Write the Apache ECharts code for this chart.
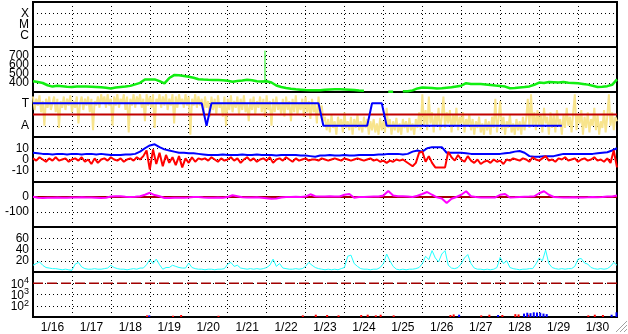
<!DOCTYPE html>
<html><head><meta charset="utf-8">
<script src="https://cdn.jsdelivr.net/npm/echarts@6/dist/echarts.min.js"></script>
<style>html,body{margin:0;padding:0;background:#fff}#c{width:628px;height:334px}</style>
</head><body><div id="c"></div>
<script>
// ---- data (time in hours from 1/16 00:00) ----
const dayLabels = ['1/16','1/17','1/18','1/19','1/20','1/21','1/22','1/23','1/24','1/25','1/26','1/27','1/28','1/29','1/30'];
const flareClasses = ['C','M','X'];          // y = 1,2,3
const sectorNames = ['A','T'];               // y = 1,2

// solar wind speed, every 3 h
const speed = [420,410,400,375,360,370,365,358,355,360,
362,360,358,356,354,348,340,350,356,360,
368,385,402,440,438,440,420,395,455,488,
485,478,470,458,442,438,435,434,432,430,
425,415,422,428,435,430,420,418,420,405,
372,355,345,337,330,326,322,320,320,320,
324,328,330,330,328,325,322,318,315,null,
null,null,null,303,303,null,307,308,318,340,
350,348,345,340,342,348,352,362,370,398,
390,388,388,384,378,372,368,360,342,345,
350,355,362,380,405,400,410,408,405,410,
402,400,396,390,382,370,356,358,365,380,
440];
const speedSpike = [[143, 418], [143, 760]];

// IMF angle scatter (yellow), hourly
const imfAngle = [
2.3,1.7,2.2,1.9,2.35,1.6,2.1,1.0,2.2,1.8,
2.3,1.7,2.0,2.3,1.6,2.2,0.9,2.1,1.8,2.3,
1.7,2.2,1.9,2.35,1.6,2.1,1.8,2.3,1.1,2.0,
2.3,1.7,2.2,1.9,2.3,1.6,2.2,0.8,2.1,1.9,
2.3,1.8,2.4,2.0,2.3,1.8,2.4,1.9,2.2,1.0,
2.3,1.9,2.4,1.8,2.2,2.0,2.4,1.7,2.3,0.7,
2.2,1.9,2.4,1.8,2.3,2.0,2.4,1.8,2.2,1.2,
2.4,1.9,2.3,1.8,2.4,0.9,2.2,2.0,2.4,1.8,
2.3,1.9,2.4,1.7,2.2,1.9,2.4,1.1,2.3,1.8,
2.4,2.0,2.2,1.8,2.4,1.9,2.3,0.6,2.2,1.9,
2.4,1.8,2.3,1.9,2.2,1.5,2.3,1.8,2.1,1.4,
2.3,1.7,2.2,1.5,2.35,1.8,2.0,1.4,2.3,1.0,
2.2,1.7,2.35,1.6,2.1,1.8,2.3,1.5,2.2,1.7,
2.35,1.6,2.0,1.2,2.2,1.7,2.3,1.5,2.1,1.8,
2.3,1.6,2.2,1.4,2.35,1.7,2.1,1.0,2.2,1.6,
2.3,1.7,2.0,1.5,2.2,1.4,2.3,1.7,2.1,1.2,
2.2,1.6,2.35,1.5,2.0,1.7,2.2,1.4,2.3,1.6,
2.1,1.3,2.2,1.6,2.0,1.1,2.3,1.5,1.9,1.2,
1.4,0.8,1.3,0.7,1.5,0.9,1.2,0.6,1.4,1.0,
1.3,0.7,1.6,0.9,1.2,0.8,1.4,0.6,1.3,0.9,
1.5,0.8,1.2,0.7,1.4,0.9,1.3,0.6,1.2,0.8,
1.3,0.7,1.1,0.6,1.35,0.8,1.2,0.7,1.8,0.9,
1.3,0.6,1.2,0.8,1.35,0.7,1.1,0.6,1.3,0.9,
1.2,0.7,1.35,0.8,1.1,0.6,1.3,0.9,1.6,0.8,
2.4,1.0,1.7,0.8,2.3,1.1,1.6,0.7,1.5,1.0,
1.8,0.8,1.4,2.3,0.9,1.6,1.1,1.7,0.7,1.5,
1.0,1.8,0.8,1.4,1.1,1.6,0.7,1.3,1.0,1.5,
0.8,1.3,0.6,1.2,0.9,1.4,0.7,1.1,0.6,1.3,
0.8,1.2,0.6,1.4,0.9,2.2,0.7,1.3,2.1,0.8,
1.4,0.6,1.2,0.9,1.5,0.7,1.1,0.6,1.3,0.8,
1.2,0.6,1.4,0.8,1.3,2.2,0.9,2.4,1.0,1.6,
0.8,1.7,1.0,1.5,0.7,1.8,1.1,1.4,0.6,1.6,
0.9,1.5,0.7,1.7,1.0,1.3,0.6,1.5,0.9,1.8,
1.0,1.4,0.7,1.6,2.4,0.8,1.5,1.1,1.7,0.6,
1.4,0.9,1.6,0.7,1.3,1.0,1.8,0.8,1.5,0.6,
1.2,0.9,1.7,0.7,1.4,2.4,1.0,1.6,0.8,1.4,
1.2];
const sectorLevel = 1.5;
const sectorHours = [0,104,107,110,176,179,206,209,215,218,326];
const sectorState = [2,2,1,2,2,1,1,2,2,1,1];

// Bt (blue) every 3 h, Bz (red) every 2 h
const bt = [6,5.5,5,5,4.5,5,5,4.5,5,5,
4.5,5,5,4.5,5,4.5,4,4,4,4.5,
4.5,5,7,10,12.5,13.5,11,9,8,7,
6,6,5.5,5.5,5,4.5,4,4,4,4.5,
4,4,4,4.5,4,4,4.5,4,4,4,
3.5,4,4,4,4,3.5,3.5,3,2.5,3.5,
3.5,4,3.5,3.5,4,3.5,3.5,4,4,4,
4,4.5,4.5,5,5,5,4.5,5,7,8,
7,10,11,11,11,6,6,6,6,5.5,
5,5,5,5,5,5,5,5.5,6,7,
7.5,6,3,2.5,2.5,3,3,3,4,5,
5,5,5,5,5,5,5.5,6,6.5,8,
10];
const bz = [1,-1,2,0,-2,1,-1,2,-1,0,1,-2,0,1,-1,2,-2,0,-4,1,-3,
0,1,-1,2,0,-1,1,-2,0,1,-1,2,0,
3,8,-9,9,-4,6,-6,4,-3,2,-5,3,-7,1,-3,2,-2,1,0,
1,-1,2,0,-2,1,-1,0,2,-1,1,-3,0,2,-1,1,-2,0,1,-1,2,-3,0,1,-1,2,0,-2,1,-1,0,1,-1,0,0,-1,
1,0,-1,0,1,0,-1,1,0,-1,0,1,0,-1,0,1,-1,0,-2,-1,-3,-1,-2,0,-1,
0,-2,-4,-6,-3,6,7,-2,3,
-3,-7,-7,-7,-7,
7,2,-1,4,0,-2,3,
-1,-3,0,-4,-2,-1,-3,0,-2,-1,-4,0,-1,1,
0,-1,1,0,-2,2,0,-1,1,3,-1,0,-2,1,0,2,-1,0,1,-2,0,1,-1,0,2,-1,
0,-2,1,-3,8,-7];

// Dst every 3 h
const dst = [2,-5,-7,-5,-5,-3,-5,-5,-3,-3,
-2,-3,-3,-5,-7,-5,3,5,5,2,
0,2,5,15,28,13,5,-7,-7,-5,
-5,-5,-3,0,0,-3,-5,-5,-3,-5,
0,12,5,-2,-3,-3,-2,-5,-8,-12,
-10,-3,0,0,2,0,3,18,5,3,
3,5,3,3,15,20,-5,0,0,2,
3,3,10,40,10,5,5,3,0,8,
20,33,15,-2,-10,-40,-12,0,15,38,
5,0,-3,-3,-3,-3,15,20,-3,-2,
0,2,3,5,25,38,15,0,-2,-3,
-3,-2,-3,-3,-2,0,-2,0,3,3,
10];
const dstZero = 0;

// cyan index every 2 h
const cyanIdx = [12,15,18,12,8,7,6,6,5,4,5,4,3,14,17,9,6,5,5,6,
5,5,6,7,12,8,6,5,5,4,5,6,5,7,7,13,22,15,23,13,
5,8,8,12,10,8,7,7,16,8,6,5,5,4,5,5,4,5,5,6,
14,17,10,12,7,6,5,6,5,6,5,6,8,12,23,10,15,7,6,5,
5,6,5,6,10,17,12,8,6,5,4,5,4,5,4,6,8,28,30,15,
10,6,5,5,4,5,5,8,15,32,20,10,5,4,5,4,5,5,6,8,
15,28,22,38,25,18,32,38,12,7,6,8,15,25,31,15,7,5,5,4,
5,4,5,8,26,15,20,8,6,5,4,5,5,6,6,14,25,20,39,15,
8,6,5,6,5,6,6,10,23,24,16,14,8,6,5,6,5,6,10,17,
12];

// particle flux panel
const fluxThreshold = 10000;
const redFluxHours = [71,87,92,115,167,175,182,189,203,207,212,215,223,258,260,277,282,290,298,300,306,343,347,352];
const redFlux = [14,13,15,13,14,16,15,14,15,16,14,16,14,15,17,14,16,15,18,17,16,14,16,15];
const blueFluxHours = [71,262,286,302,304,306,308,310,312,314,316,356,359];
const blueFlux = [14,16,15,20,24,22,26,25,24,20,18,16,26];

// ---- chart ----
const FONT = 'Liberation Sans, Arial, sans-serif';
const pairs = (arr, step) => arr.map((v, i) => [i * step, v]);
const zip = (xs, ys) => xs.map((x, i) => [x, ys[i]]);
const dotted = {color: '#000', width: 1, type: [1, 3]};
const tops = [2, 47, 92, 137, 182, 227, 272];
const grid = tops.map(t => ({left: 33, width: 584, top: t, height: 45, show: true, borderColor: '#000', borderWidth: 2, backgroundColor: 'transparent'}));

const xAxis = tops.map((t, i) => ({
  type: 'value', gridIndex: i, min: 0, max: 360, interval: 24,
  axisLine: {show: false}, axisTick: {show: false}, axisLabel: {show: false},
  splitLine: {show: true, lineStyle: dotted}
}));
xAxis.push({type: 'category', gridIndex: 6, data: dayLabels, boundaryGap: true, position: 'bottom',
  axisLine: {show: false}, axisTick: {show: false}, splitLine: {show: false},
  axisLabel: {show: true, interval: 0, color: '#000', fontSize: 12, fontFamily: FONT, margin: 5}});

const lbl = (fmt) => ({show: true, color: '#000', fontSize: 12, fontFamily: FONT, margin: 4, formatter: fmt});
const yBase = {axisLine: {show: false}, axisTick: {show: false}, splitLine: {show: true, lineStyle: dotted}};
const yAxis = [
  Object.assign({type: 'value', gridIndex: 0, min: 0, max: 4, interval: 1, axisLabel: lbl(v => flareClasses[v - 1] || '')}, yBase),
  Object.assign({type: 'value', gridIndex: 1, min: 300, max: 800, interval: 100, axisLabel: lbl(v => (v >= 400 && v <= 700) ? String(v) : '')}, yBase),
  Object.assign({type: 'value', gridIndex: 2, min: 0.5, max: 2.5, interval: 0.5, axisLabel: lbl(v => v === 1 ? sectorNames[0] : v === 2 ? sectorNames[1] : '')}, yBase),
  Object.assign({type: 'value', gridIndex: 3, min: -20, max: 20, interval: 10, axisLabel: lbl(v => Math.abs(v) <= 10 ? String(v) : '')}, yBase),
  Object.assign({type: 'value', gridIndex: 4, min: -200, max: 100, interval: 100, axisLabel: lbl(v => (v === 0 || v === -100) ? String(v) : '')}, yBase),
  Object.assign({type: 'value', gridIndex: 5, min: 0, max: 80, interval: 20, axisLabel: lbl(v => (v >= 20 && v <= 60) ? String(v) : '')}, yBase),
  Object.assign({type: 'log', gridIndex: 6, min: 10, max: 100000, logBase: 10,
    axisLabel: {show: true, color: '#000', margin: 4, fontFamily: FONT,
      formatter: v => { const e = Math.round(Math.log10(v)); return (e >= 2 && e <= 4) ? '{b|10}{s|' + e + '}' : ''; },
      rich: {b: {fontSize: 12, lineHeight: 14, verticalAlign: 'bottom', fontFamily: FONT, color: '#000'},
             s: {fontSize: 9, lineHeight: 14, verticalAlign: 'top', fontFamily: FONT, color: '#000'}}}}, yBase)
];

const line = (gi, data, color, width, extra) => Object.assign({
  type: 'line', xAxisIndex: gi, yAxisIndex: gi, data: data, showSymbol: false, symbol: 'none',
  lineStyle: {color: color, width: width}, itemStyle: {color: color}, silent: true, connectNulls: false
}, extra || {});
const hline = (gi, y, color, width, type) => line(gi, [[0, y], [360, y]], color, width, {lineStyle: {color: color, width: width, type: type || 'solid'}});

const series = [
  line(1, pairs(speed, 3), '#11ee11', 2.5),
  line(1, speedSpike, '#11ee11', 1),
  line(2, pairs(imfAngle, 1), '#f8e48c', 2),
  hline(2, sectorLevel, '#c00000', 2),
  line(2, zip(sectorHours, sectorState), '#0000ff', 2),
  line(3, pairs(bt, 3), '#0000ff', 2),
  line(3, pairs(bz, 2), '#ff0000', 2),
  hline(4, dstZero, '#a00000', 2),
  line(4, pairs(dst, 3), '#ff00ff', 2),
  line(5, pairs(cyanIdx, 2), '#22ffff', 1),
  hline(6, fluxThreshold, '#a00000', 1.5, [10, 4]),
  {type: 'bar', xAxisIndex: 6, yAxisIndex: 6, data: zip(redFluxHours, redFlux), barWidth: 2, itemStyle: {color: '#ff0000'}, silent: true},
  {type: 'bar', xAxisIndex: 6, yAxisIndex: 6, data: zip(blueFluxHours, blueFlux), barWidth: 2, itemStyle: {color: '#0000ff'}, silent: true}
];

const chart = echarts.init(document.getElementById('c'), null, {renderer: 'canvas'});
chart.setOption({
  animation: false, backgroundColor: '#fff',
  grid: grid, xAxis: xAxis, yAxis: yAxis, series: series,
  graphic: [
    {type: 'line', shape: {x1: 627, y1: 321, x2: 616, y2: 332}, style: {stroke: '#a0a0a0', lineWidth: 1}},
    {type: 'line', shape: {x1: 627, y1: 325, x2: 620, y2: 332}, style: {stroke: '#a0a0a0', lineWidth: 1}},
    {type: 'line', shape: {x1: 627, y1: 329, x2: 624, y2: 332}, style: {stroke: '#a0a0a0', lineWidth: 1}}
  ]
});
</script></body></html>
